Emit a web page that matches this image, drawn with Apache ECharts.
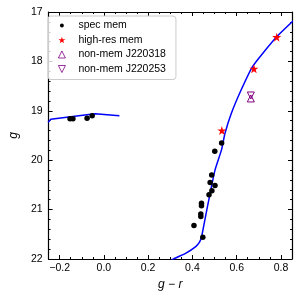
<!DOCTYPE html>
<html><head><meta charset="utf-8">
<script src="https://cdn.jsdelivr.net/npm/echarts@6/dist/echarts.min.js"></script>
<style>html,body{margin:0;padding:0;background:#fff}#c{width:300px;height:300px}</style>
</head><body><div id="c"></div>
<script>
// ---- data ----
const xMajorTicks = [-0.2, 0.0, 0.2, 0.4, 0.6, 0.8];
const xMinorTicks = [-0.25, -0.15, -0.1, -0.05, 0.05, 0.1, 0.15, 0.25, 0.3, 0.35, 0.45, 0.5, 0.55, 0.65, 0.7, 0.75, 0.85];
const yTicks = [17, 18, 19, 20, 21, 22];

const specGR = [-0.153, -0.140, -0.076, -0.053, 0.532, 0.501, 0.487, 0.480, 0.502, 0.488, 0.475, 0.441, 0.441, 0.438, 0.438, 0.407, 0.447];
const specG  = [19.16, 19.16, 19.15, 19.10, 19.65, 19.82, 20.30, 20.45, 20.51, 20.62, 20.70, 20.87, 20.92, 21.09, 21.14, 21.32, 21.56];

const hiresGR = [0.533, 0.678, 0.781];
const hiresG  = [19.40, 18.15, 17.51];

const nonmem318GR = [0.664];
const nonmem318G  = [18.75];
const nonmem253GR = [0.664];
const nonmem253G  = [18.69];

const hbGR = [-0.252, -0.240, -0.150, -0.040, 0.070];
const hbG  = [19.23, 19.17, 19.12, 19.06, 19.10];

const rgbGR = [0.300, 0.315, 0.371, 0.415, 0.432, 0.441, 0.460, 0.480, 0.502, 0.532, 0.547, 0.576, 0.620, 0.671, 0.730, 0.781, 0.860];
const rgbG  = [22.05, 22.00, 21.88, 21.75, 21.66, 21.56, 21.12, 20.67, 20.20, 19.78, 19.46, 19.05, 18.58, 18.11, 17.77, 17.50, 17.16];

const labels = ['spec mem', 'high-res mem', 'non-mem J220318', 'non-mem J220253'];

// ---- helpers ----
const zip = (a, b) => a.map((v, i) => [v, b[i]]);
const FONT = 'Liberation Sans';
const STAR = 'path://M50,0 L61.2,34.5 L97.6,34.5 L68.2,55.9 L79.4,90.5 L50,69.1 L20.6,90.5 L31.8,55.9 L2.4,34.5 L38.8,34.5 Z';
const TRI_DOWN = 'path://M0,0 L10,0 L5,10 Z';
const TRI_UP = 'path://M5,0 L10,10 L0,10 Z';
const DOT_ICON = 'path://M0,0 M10,10 M5,2.2 A2.8,2.8 0 1 1 5,7.8 A2.8,2.8 0 1 1 5,2.2 Z';
const fmtX = v => (v < 0 ? '\u2212' : '') + Math.abs(v).toFixed(1);
const hollow = { color: 'rgba(0,0,0,0)', borderColor: '#800080', borderWidth: 1, opacity: 1 };

const X0 = -0.25, X1 = 0.85;
function xAx(pos, vals, len, main) {
  return {
    type: 'value', position: pos, min: X0, max: X1, offset: 0,
    axisLine: { show: main, onZero: false, lineStyle: { color: '#000', width: 1.2 } },
    axisTick: { show: true, inside: true, length: len, customValues: vals, lineStyle: { color: '#000', width: 1 } },
    axisLabel: main && pos === 'bottom' ? {
      show: true, customValues: xMajorTicks, formatter: fmtX, margin: 4,
      fontSize: 10.5, color: '#000', fontFamily: FONT
    } : { show: false },
    splitLine: { show: false },
    name: main && pos === 'bottom' ? 'g \u2212 r' : '',
    nameLocation: 'middle', nameGap: 19,
    nameTextStyle: { fontSize: 12, fontStyle: 'italic', color: '#000', fontFamily: FONT }
  };
}
function yAx(pos) {
  const left = pos === 'left';
  return {
    type: 'value', position: pos, inverse: true, min: 17, max: 22, interval: 1, offset: 0,
    axisLine: { show: true, onZero: false, lineStyle: { color: '#000', width: 1.2 } },
    axisTick: { show: true, inside: true, length: 4, lineStyle: { color: '#000', width: 1 } },
    minorTick: { show: true, splitNumber: 5, length: 2, lineStyle: { color: '#000', width: 1 } },
    axisLabel: left ? { show: true, margin: 6, fontSize: 10.5, color: '#000', fontFamily: FONT } : { show: false },
    splitLine: { show: false }, minorSplitLine: { show: false },
    name: left ? 'g' : '', nameLocation: 'middle', nameGap: 21, nameRotate: 90,
    nameTextStyle: { fontSize: 12, fontStyle: 'italic', color: '#000', fontFamily: FONT }
  };
}

const chart = echarts.init(document.getElementById('c'), null, { renderer: 'canvas' });
chart.setOption({
  animation: false,
  backgroundColor: '#fff',
  textStyle: { fontFamily: FONT },
  grid: { left: 43, right: 8, top: 12, bottom: 41, containLabel: false },
  xAxis: [xAx('bottom', xMajorTicks, 4, true), xAx('bottom', xMinorTicks, 2, false),
          xAx('top', xMajorTicks, 4, true), xAx('top', xMinorTicks, 2, false)],
  yAxis: [yAx('left'), yAx('right')],
  legend: {
    orient: 'vertical', left: 48, top: 16,
    padding: [4, 10, 5, 10], itemGap: 3.5, itemWidth: 7, itemHeight: 7,
    borderColor: '#cccccc', borderWidth: 1, borderRadius: 3,
    backgroundColor: 'rgba(255,255,255,0.8)',
    textStyle: { fontSize: 10.5, color: '#000', fontFamily: FONT, padding: [0, 0, 0, 8] },
    data: [
      { name: labels[0], icon: DOT_ICON },
      { name: labels[1], icon: STAR },
      { name: labels[2], icon: TRI_UP, itemStyle: { color: 'rgba(0,0,0,0)', borderColor: '#800080', borderWidth: 0.8 } },
      { name: labels[3], icon: TRI_DOWN, itemStyle: { color: 'rgba(0,0,0,0)', borderColor: '#800080', borderWidth: 0.8 } }
    ]
  },
  series: [
    { type: 'line', name: 'hb', data: zip(hbGR, hbG), showSymbol: false, symbol: 'none',
      lineStyle: { color: '#0000ff', width: 1.5 }, itemStyle: { color: '#0000ff' }, smooth: false, z: 2 },
    { type: 'line', name: 'rgb', data: zip(rgbGR, rgbG), showSymbol: false, symbol: 'none',
      lineStyle: { color: '#0000ff', width: 1.5 }, itemStyle: { color: '#0000ff' }, smooth: 0.2, z: 2 },
    { type: 'scatter', name: labels[0], data: zip(specGR, specG), symbol: 'circle', symbolSize: 5.5,
      itemStyle: { color: '#000', opacity: 1 }, z: 3 },
    { type: 'scatter', name: labels[1], data: zip(hiresGR, hiresG), symbol: STAR, symbolSize: 9,
      itemStyle: { color: '#ff0000', opacity: 1 }, z: 4 },
    { type: 'scatter', name: labels[2], data: zip(nonmem318GR, nonmem318G), symbol: TRI_UP, symbolSize: 7,
      itemStyle: hollow, z: 4 },
    { type: 'scatter', name: labels[3], data: zip(nonmem253GR, nonmem253G), symbol: TRI_DOWN, symbolSize: 7,
      itemStyle: hollow, z: 4 }
  ]
});
</script></body></html>
